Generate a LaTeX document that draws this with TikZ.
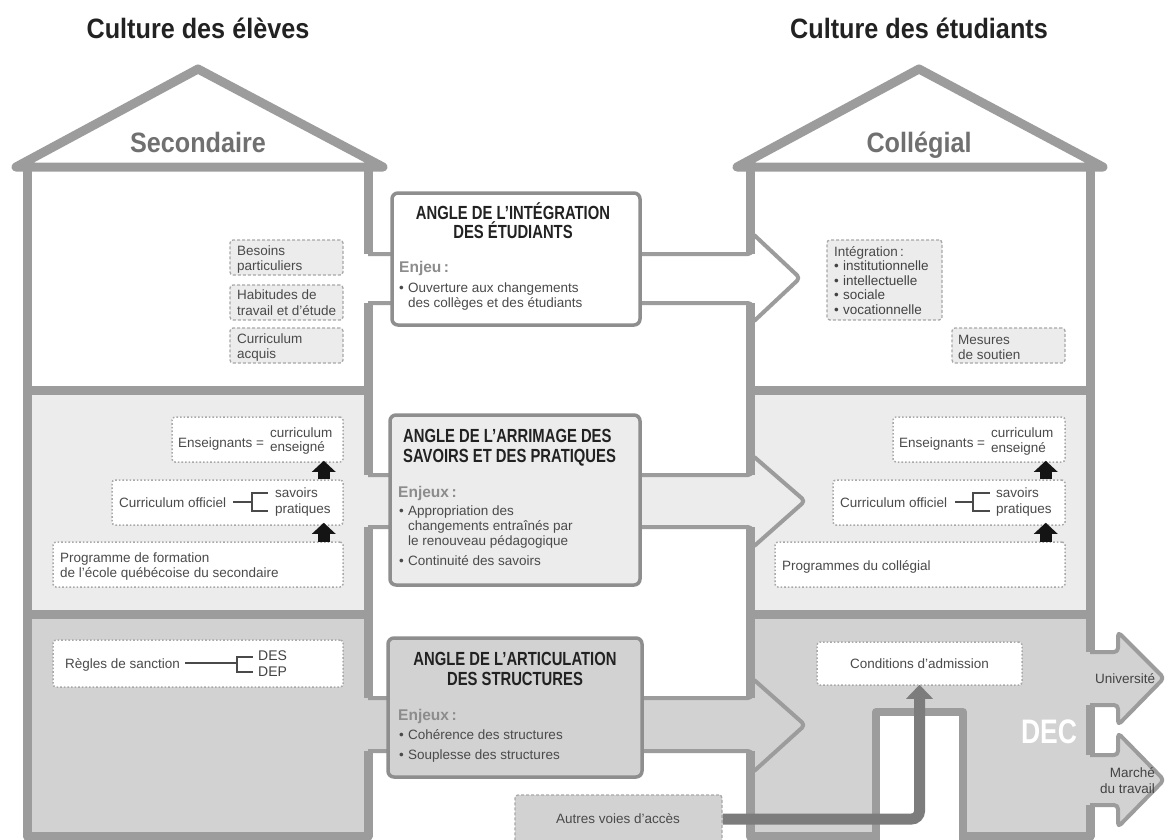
\documentclass[tikz,border=0pt]{standalone}
\usepackage{fontspec}
\setmainfont{Liberation Sans}
\newfontfamily\condfont[FakeStretch=0.78]{Liberation Sans}
\newfontfamily\headfont[FakeStretch=0.9]{Liberation Sans}
\usetikzlibrary{arrows.meta}
\definecolor{wallc}{HTML}{9C9C9C}
\definecolor{midc}{HTML}{ECECEC}
\definecolor{lowc}{HTML}{D2D2D2}
\definecolor{boxc}{HTML}{8E8E8E}
\definecolor{txtc}{HTML}{4A4A4A}
\definecolor{darkc}{HTML}{222222}
\definecolor{enjc}{HTML}{8C8C8C}
\definecolor{accc}{HTML}{7C7C7C}
\definecolor{dashc}{HTML}{A8A8A8}
\definecolor{roofc}{HTML}{707070}
\newcommand\smallsz{\fontsize{13.5}{15}\selectfont}
\tikzset{
  wall/.style={draw=wallc,line width=9pt,line join=round},
  band/.style={draw=wallc,line width=4pt,line join=round,rounded corners=4pt},
  cbox/.style={draw=boxc,line width=3.5pt,rounded corners=6pt,inner sep=0pt},
  dashbox/.style={draw=dashc,line width=1.3pt,dash pattern=on 3pt off 2pt,rounded corners=3pt,inner sep=0pt},
  dotbox/.style={draw=dashc,line width=1.5pt,dash pattern=on 1.6pt off 2pt,rounded corners=3pt,inner sep=0pt,fill=white},
  tx/.style={anchor=base west,inner sep=0pt,text=txtc,font=\smallsz},
  txd/.style={anchor=base west,inner sep=0pt,text=darkc!85!white,font=\smallsz},
  ttl/.style={anchor=base,inner sep=0pt,text=darkc,font=\headfont\bfseries\fontsize{28}{30}\selectfont},
  roofname/.style={anchor=base,inner sep=0pt,text=roofc,font=\headfont\bfseries\fontsize{28}{30}\selectfont},
  angle/.style={inner sep=0pt,text=darkc,font=\condfont\bfseries\fontsize{19}{20}\selectfont},
  enj/.style={anchor=base west,inner sep=0pt,text=enjc,font=\bfseries\fontsize{15.5}{17}\selectfont},
  blk/.style={draw=black!92,line width=12pt,-{Triangle[width=23pt,length=11pt]}},
  brk/.style={draw=txtc,line width=1.3pt},
  accarrow/.style={draw=accc,line width=11pt,rounded corners=8pt,-{Triangle[width=26pt,length=14pt]}}
}
\begin{document}
\begin{tikzpicture}[x=1pt,y=-1pt]
\useasboundingbox (0,0) rectangle (1167,839);
\fill[white] (0,0) rectangle (1167,839);

% ---------- section fills ----------
\fill[white] (27,167) rectangle (368,390);
\fill[midc]  (27,390) rectangle (368,614);
\fill[lowc]  (27,614) rectangle (368,836);
\fill[white] (750,167) rectangle (1090,390);
\fill[midc]  (750,390) rectangle (1090,614);
\fill[lowc]  (750,614) rectangle (1090,836);

% ---------- bands (arrows between houses) ----------
\fill[white] (368,254) -- (752,254) -- (752,233) -- (800,278) -- (752,323) -- (752,303) -- (368,303) -- cycle;
\draw[band] (368,254) -- (752,254) -- (752,233) -- (800,278) -- (752,323) -- (752,303) -- (368,303);
\fill[midc] (368,475) -- (752,475) -- (752,455) -- (805,501) -- (752,548) -- (752,527) -- (368,527) -- cycle;
\draw[band] (368,475) -- (752,475) -- (752,455) -- (805,501) -- (752,548) -- (752,527) -- (368,527);
\fill[lowc] (368,698) -- (752,698) -- (752,678) -- (805,725) -- (752,773) -- (752,751) -- (368,751) -- cycle;
\draw[band] (368,698) -- (752,698) -- (752,678) -- (805,725) -- (752,773) -- (752,751) -- (368,751);
% exits
\fill[lowc] (1090,652) -- (1118,652) -- (1118,632) -- (1164,678) -- (1118,725) -- (1118,705) -- (1090,705) -- cycle;
\draw[band] (1090,652) -- (1118,652) -- (1118,632) -- (1164,678) -- (1118,725) -- (1118,705) -- (1090,705);
\fill[lowc] (1090,755) -- (1118,755) -- (1118,733) -- (1164,780) -- (1118,827) -- (1118,805) -- (1090,805) -- cycle;
\draw[band] (1090,755) -- (1118,755) -- (1118,733) -- (1164,780) -- (1118,827) -- (1118,805) -- (1090,805);

% ---------- central boxes ----------
\node[cbox,fill=white,minimum width=248pt,minimum height=132pt] (angI) at (516,259) {};
\node[cbox,fill=midc,minimum width=250pt,minimum height=170pt] (angA) at (515,500) {};
\node[cbox,fill=lowc,minimum width=254pt,minimum height=139pt] (angS) at (515,707.5) {};

% ---------- house outlines ----------
\draw[wall] (368,167) -- (368,254);
\draw[wall] (368,303) -- (368,475);
\draw[wall] (368,527) -- (368,698);
\draw[wall] (368,751) -- (368,836) -- (27,836) -- (27,167);
\draw[wall] (27,390) -- (368,390);
\draw[wall] (27,614) -- (368,614);
\draw[wall,fill=white] (16,167) -- (198,69) -- (383,167) -- cycle;

\draw[wall] (750,167) -- (750,254);
\draw[wall] (750,303) -- (750,475);
\draw[wall] (750,527) -- (750,698);
\draw[wall] (750,751) -- (750,836) -- (1090,836) -- (1090,805);
\draw[wall] (1090,755) -- (1090,705);
\draw[wall] (1090,652) -- (1090,167);
\draw[wall] (750,390) -- (1090,390);
\draw[wall] (750,614) -- (1090,614);
\draw[wall,fill=white] (737,167) -- (919,69) -- (1103,167) -- cycle;

% door
\draw[wall,line width=8pt,fill=white] (876,850) -- (876,712) -- (963,712) -- (963,850);

% ---------- titles ----------
\node[ttl] (tEleves) at (198,38) {Culture des élèves};
\node[ttl] (tEtud) at (919,38) {Culture des étudiants};
\node[roofname] (tSec) at (198,152) {Secondaire};
\node[roofname] (tCol) at (919,152) {Collégial};

% ---------- central box texts ----------
\node[angle,anchor=base,align=center] (aI1) at (513,219) {ANGLE DE L’INTÉGRATION};
\node[angle,anchor=base,align=center] (aI2) at (513,238) {DES ÉTUDIANTS};
\node[enj] (eI) at (399,272) {Enjeu\thinspace:};
\node[tx] (bI0) at (399,292) {•};
\node[tx] (bI1) at (408,292) {Ouverture aux changements};
\node[tx] (bI2) at (408,307) {des collèges et des étudiants};

\node[angle,anchor=base west] (aA1) at (403,442) {ANGLE DE L’ARRIMAGE DES};
\node[angle,anchor=base west] (aA2) at (403,462) {SAVOIRS ET DES PRATIQUES};
\node[enj] (eA) at (398,497) {Enjeux\thinspace:};
\node[tx] (bA0) at (399,515) {•};
\node[tx] (bA1) at (408,515) {Appropriation des};
\node[tx] (bA2) at (408,530) {changements entraînés par};
\node[tx] (bA3) at (408,545) {le renouveau pédagogique};
\node[tx] (bA4) at (399,565) {•};
\node[tx] (bA5) at (408,565) {Continuité des savoirs};

\node[angle,anchor=base] (aS1) at (515,665) {ANGLE DE L’ARTICULATION};
\node[angle,anchor=base] (aS2) at (515,685) {DES STRUCTURES};
\node[enj] (eS) at (398,720) {Enjeux\thinspace:};
\node[tx] (bS0) at (399,739) {•};
\node[tx] (bS1) at (408,739) {Cohérence des structures};
\node[tx] (bS2) at (399,759) {•};
\node[tx] (bS3) at (408,759) {Souplesse des structures};

% ---------- left house content ----------
\node[dashbox,fill=midc,minimum width=113pt,minimum height=35pt] (bBes) at (286.5,257.5) {};
\node[dashbox,fill=midc,minimum width=113pt,minimum height=35pt] (bHab) at (286.5,302.5) {};
\node[dashbox,fill=midc,minimum width=113pt,minimum height=35pt] (bCurA) at (286.5,345.5) {};
\node[tx] (l1) at (237,255) {Besoins};
\node[tx] (l2) at (237,270) {particuliers};
\node[tx] (l3) at (237,299) {Habitudes de};
\node[tx] (l4) at (237,315) {travail et d’étude};
\node[tx] (l5) at (237,343) {Curriculum};
\node[tx] (l6) at (237,358) {acquis};

\node[dotbox,minimum width=171pt,minimum height=45pt] (ensL) at (257.5,439.5) {};
\node[dotbox,minimum width=231pt,minimum height=45pt] (curL) at (227.5,502.5) {};
\node[dotbox,minimum width=290pt,minimum height=45pt] (progL) at (198,564.5) {};
\node[tx] (ensLt) at (178,447) {Enseignants};
\node[tx] (ensLe) at (256,447) {=};
\node[tx] (ensLc) at (270,437) {curriculum};
\node[tx] (ensLs) at (270,451) {enseigné};
\node[tx] (curLt) at (119,507) {Curriculum officiel};
\draw[brk] (233,502) -- (252,502);
\draw[brk] (268,493) -- (252,493) -- (252,511) -- (268,511);
\node[tx] (curLs) at (275,497) {savoirs};
\node[tx] (curLp) at (275,513) {pratiques};
\node[tx] (progL1) at (60,562) {Programme de formation};
\node[tx] (progL2) at (60,577) {de l’école québécoise du secondaire};
\draw[blk] ([xshift=-20pt]curL.north east) -- ([xshift=-20pt,yshift=2pt]ensL.south east);
\draw[blk] ([xshift=-20pt,yshift=-1pt]progL.north east) -- ([xshift=-20pt,yshift=3pt]curL.south east);

\node[dotbox,minimum width=290pt,minimum height=47pt] (regL) at (198,663.5) {};
\node[tx] (regLt) at (65,668) {Règles de sanction};
\draw[brk] (185,663) -- (237,663);
\draw[brk] (253,657) -- (237,657) -- (237,672) -- (253,672);
\node[txd,font=\fontsize{14}{15}\selectfont] (des) at (258,660) {DES};
\node[txd,font=\fontsize{14}{15}\selectfont] (dep) at (258,676) {DEP};

% ---------- right house content ----------
\node[dashbox,fill=midc,minimum width=115pt,minimum height=80pt] (intg) at (884.5,280) {};
\node[tx] (r1) at (834,256) {Intégration\thinspace:};
\node[txd] (r2b) at (834,270) {•};
\node[txd] (r2) at (843,270) {institutionnelle};
\node[txd] (r3b) at (834,285) {•};
\node[txd] (r3) at (843,285) {intellectuelle};
\node[txd] (r4b) at (834,299) {•};
\node[txd] (r4) at (843,299) {sociale};
\node[txd] (r5b) at (834,314) {•};
\node[txd] (r5) at (843,314) {vocationnelle};
\node[dashbox,fill=midc,minimum width=113pt,minimum height=35pt] (mes) at (1008.5,345.5) {};
\node[tx] (m1) at (958,344) {Mesures};
\node[tx] (m2) at (958,359) {de soutien};

\node[dotbox,minimum width=172pt,minimum height=45pt] (ensR) at (979,439.5) {};
\node[dotbox,minimum width=232pt,minimum height=45pt] (curR) at (949,502.5) {};
\node[dotbox,minimum width=290pt,minimum height=45pt] (progR) at (920,564.5) {};
\node[tx] (ensRt) at (899,447) {Enseignants};
\node[tx] (ensRe) at (977,447) {=};
\node[tx] (ensRc) at (991,437) {curriculum};
\node[tx] (ensRs) at (991,452) {enseigné};
\node[tx] (curRt) at (840,507) {Curriculum officiel};
\draw[brk] (955,502) -- (973,502);
\draw[brk] (990,493) -- (973,493) -- (973,511) -- (990,511);
\node[tx] (curRs) at (996,497) {savoirs};
\node[tx] (curRp) at (996,513) {pratiques};
\node[tx] (progRt) at (782,570) {Programmes du collégial};
\draw[blk] ([xshift=-20pt]curR.north east) -- ([xshift=-20pt,yshift=2pt]ensR.south east);
\draw[blk] ([xshift=-20pt,yshift=-1pt]progR.north east) -- ([xshift=-20pt,yshift=3pt]curR.south east);

\node[dotbox,minimum width=205pt,minimum height=43pt,text=txtc,font=\smallsz] (cond) at (919.5,663.5) {Conditions d’admission};

\node[anchor=base,inner sep=0pt,text=white,font=\condfont\bfseries\fontsize{34}{36}\selectfont] (dec) at (1049,743) {DEC};
\node[anchor=base,inner sep=0pt,text=darkc!85!white,font=\smallsz] (univ) at (1125,683) {Université};
\node[anchor=base east,inner sep=0pt,text=darkc!85!white,font=\smallsz] (mar1) at (1155,777) {Marché};
\node[anchor=base east,inner sep=0pt,text=darkc!85!white,font=\smallsz] (mar2) at (1155,793) {du travail};

% ---------- autres voies ----------
\node[dashbox,fill=lowc,minimum width=207pt,minimum height=48pt,text=txtc,font=\smallsz] (autres) at (618.5,819) {};
\node[anchor=base,inner sep=0pt,text=txtc,font=\smallsz] (autrest) at (618,823) {Autres voies d’accès};
\draw[accarrow] (autres.east) -| ([yshift=1pt]cond.south);
\end{tikzpicture}
\end{document}
